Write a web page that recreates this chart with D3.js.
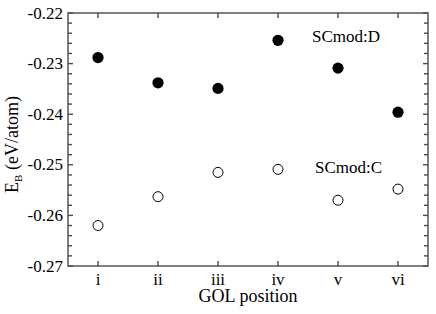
<!DOCTYPE html>
<html>
<head>
<meta charset="utf-8">
<script src="https://cdn.jsdelivr.net/npm/d3@7"></script>
<style>
  html, body { margin: 0; padding: 0; background: #fff; }
</style>
</head>
<body>
<div id="chart"></div>
<script>
const positions = ['i', 'ii', 'iii', 'iv', 'v', 'vi'];
const scmodD = [-0.2288, -0.2338, -0.2349, -0.2254, -0.2309, -0.2396];
const scmodC = [-0.2620, -0.2563, -0.2515, -0.2509, -0.2570, -0.2548];
const yTicks = [-0.22, -0.23, -0.24, -0.25, -0.26, -0.27];

const W = 436, H = 314;
const M = { top: 13, right: 8, bottom: 48, left: 68 };
const w = W - M.left - M.right, h = H - M.top - M.bottom;
const axisCol = '#4a4a4a';
const FONT = 'Liberation Serif';

const root = d3.select('#chart').append('svg')
  .attr('width', W).attr('height', H);
const svg = root.append('g').attr('transform', `translate(${M.left},${M.top})`);

const x = d3.scalePoint().domain(positions).range([0, w]).padding(0.5);
const y = d3.scaleLinear().domain([-0.27, -0.22]).range([h, 0]);

// minor + major ticks, inward on all four sides
const minor = d3.range(-0.27, -0.2199, 0.002).map(v => +v.toFixed(3));
const frame = svg.append('g');
minor.forEach(v => {
  const major = Math.abs(Math.round(v * 100) - v * 100) < 1e-6;
  const len = major ? 5 : 4;
  frame.append('line').attr('x1', 0).attr('x2', len).attr('y1', y(v)).attr('y2', y(v));
  frame.append('line').attr('x1', w).attr('x2', w - len).attr('y1', y(v)).attr('y2', y(v));
});
positions.forEach(p => {
  frame.append('line').attr('x1', x(p)).attr('x2', x(p)).attr('y1', h).attr('y2', h - 5);
  frame.append('line').attr('x1', x(p)).attr('x2', x(p)).attr('y1', 0).attr('y2', 5);
});
frame.append('rect').attr('x', 0).attr('y', 0).attr('width', w).attr('height', h).attr('fill', 'none');
frame.selectAll('line, rect').attr('stroke', axisCol).attr('stroke-width', 1.4);

// tick labels
svg.selectAll('.ylab').data(yTicks).enter().append('text')
  .attr('font-family', FONT)
  .attr('x', -5).attr('y', d => y(d)).attr('dy', '0.33em')
  .attr('text-anchor', 'end').attr('font-size', 17)
  .text(d => d.toFixed(2));
svg.selectAll('.xlab').data(positions).enter().append('text')
  .attr('font-family', FONT)
  .attr('x', d => x(d)).attr('y', h + 18.5)
  .attr('text-anchor', 'middle').attr('font-size', 17)
  .text(d => d);

// axis titles
svg.append('text').attr('font-family', FONT).attr('x', w / 2).attr('y', h + 36)
  .attr('text-anchor', 'middle').attr('font-size', 18).text('GOL position');
const yt = svg.append('text').attr('font-family', FONT)
  .attr('transform', `translate(${-50},${131.5}) rotate(-90)`)
  .attr('text-anchor', 'middle').attr('font-size', 18);
yt.append('tspan').text('E');
yt.append('tspan').attr('font-size', 11).attr('dy', 4).text('B');
yt.append('tspan').attr('dy', -4).text(' (eV/atom)');

// markers
svg.selectAll('.d').data(scmodD).enter().append('circle')
  .attr('cx', (d, i) => x(positions[i])).attr('cy', d => y(d))
  .attr('r', 5.6).attr('fill', '#000');
svg.selectAll('.c').data(scmodC).enter().append('circle')
  .attr('cx', (d, i) => x(positions[i])).attr('cy', d => y(d))
  .attr('r', 5).attr('fill', 'none').attr('stroke', '#000').attr('stroke-width', 1);

// series labels
svg.append('text').attr('font-family', FONT).attr('x', 244).attr('y', 29).attr('font-size', 17).text('SCmod:D');
svg.append('text').attr('font-family', FONT).attr('x', 247).attr('y', 160).attr('font-size', 17).text('SCmod:C');
</script>
</body>
</html>
